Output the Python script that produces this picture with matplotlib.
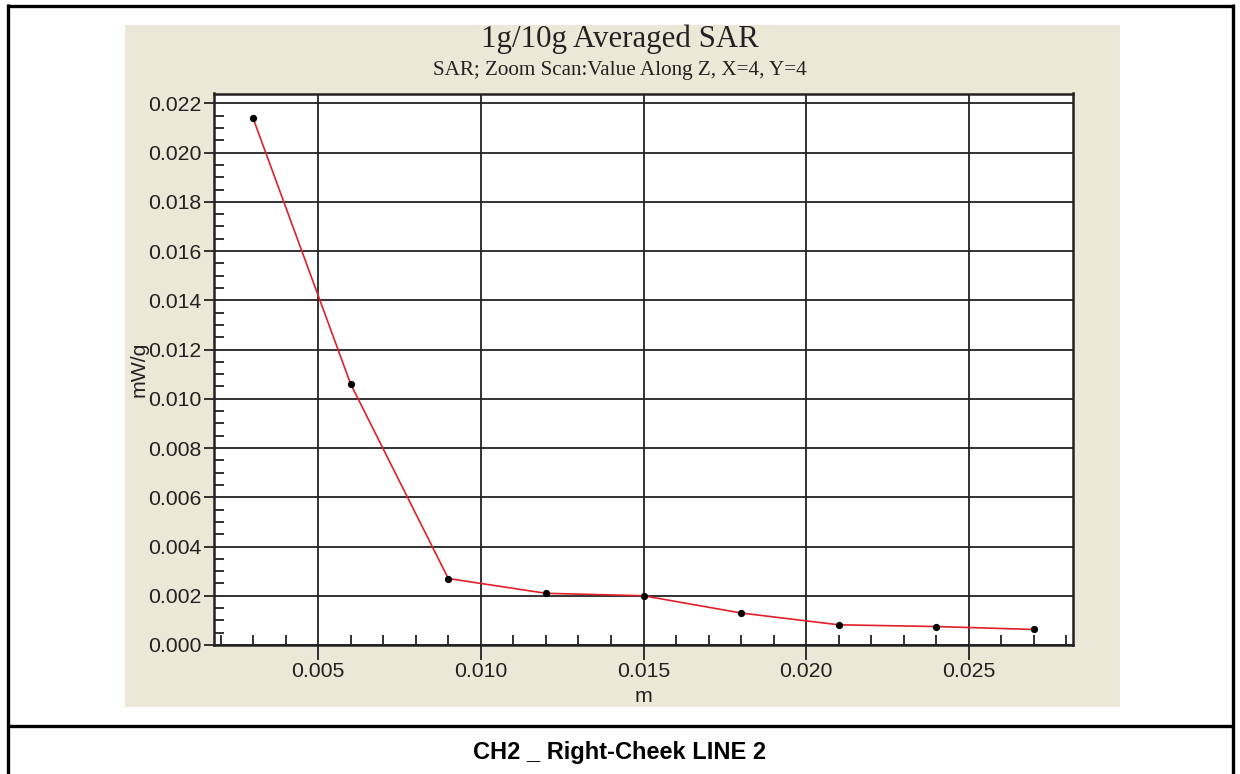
import matplotlib.pyplot as plt
from matplotlib.lines import Line2D
from matplotlib.patches import Rectangle
from matplotlib.ticker import MultipleLocator, FormatStrFormatter

# values
depth_m = [0.003, 0.006, 0.009, 0.012, 0.015, 0.018, 0.021, 0.024, 0.027]
sar_mw_g = [0.0214, 0.0106, 0.0027, 0.0021, 0.0020, 0.0013, 0.00082, 0.00075, 0.00063]

title = "1g/10g Averaged SAR"
subtitle = "SAR; Zoom Scan:Value Along Z, X=4, Y=4"
caption = "CH2 _ Right-Cheek LINE 2"

W, H = 1240, 774
PANEL = "#ECE8D7"


def fx(px):
    return px / W


def fy(py):
    return 1 - py / H


fig = plt.figure(figsize=(W / 100, H / 100), dpi=100)
fig.patch.set_facecolor("white")

# beige chart panel
fig.add_artist(Rectangle((fx(125), fy(707)), fx(1120) - fx(125), fy(25) - fy(707),
                         transform=fig.transFigure, facecolor=PANEL, edgecolor="none", zorder=0))

# page frame lines
lw_frame = 2.4
for xs, ys in [([7, 1233], [5.5, 5.5]), ([7.5, 7.5], [4, 774]), ([1233, 1233], [4, 774]),
               ([7, 1233], [725.5, 725.5])]:
    fig.add_artist(Line2D([fx(x) for x in xs], [fy(y) for y in ys], transform=fig.transFigure,
                          color="black", linewidth=lw_frame, solid_capstyle="butt"))

ax = fig.add_axes([fx(214), fy(645), fx(1073) - fx(214), fy(93.5) - fy(645)])
ax.set_facecolor("white")

ax.plot(depth_m, sar_mw_g, color="#E0202A", linewidth=1.2, zorder=3)
ax.plot(depth_m, sar_mw_g, linestyle="none", marker="o", markersize=4.2, color="black", zorder=4)

ax.set_xlim(0.0018, 0.0282)
ax.set_ylim(0.0, 0.0224)

ax.xaxis.set_major_locator(MultipleLocator(0.005))
ax.xaxis.set_minor_locator(MultipleLocator(0.001))
ax.yaxis.set_major_locator(MultipleLocator(0.002))
ax.yaxis.set_minor_locator(MultipleLocator(0.0005))
ax.xaxis.set_major_formatter(FormatStrFormatter("%.3f"))
ax.yaxis.set_major_formatter(FormatStrFormatter("%.3f"))

ax.grid(True, which="major", color="#222222", linewidth=1.3)
ax.set_axisbelow(True)

for s in ax.spines.values():
    s.set_linewidth(1.8)
    s.set_color("#222222")

fs = 15.3
tick_font = dict(family="Liberation Sans", size=fs)
ax.tick_params(axis="x", which="major", direction="out", length=11, width=1.3, pad=1.5,
               labelsize=fs, colors="#222222")
ax.tick_params(axis="y", which="major", direction="out", length=7, width=1.3, pad=2,
               labelsize=fs, colors="#222222")
ax.tick_params(which="minor", direction="in", length=7.5, width=1.3, colors="#222222")
for lbl in ax.get_xticklabels() + ax.get_yticklabels():
    lbl.set_fontfamily("Liberation Sans")

ax.set_xlabel("m", fontdict=tick_font, labelpad=4, color="#222222")
ax.set_ylabel("mW/g", fontdict=tick_font, labelpad=0, color="#222222")

fig.text(0.5, fy(39), title, ha="center", va="center", family="Liberation Serif", size=22.2,
         color="#222222")
fig.text(0.5, fy(71), subtitle, ha="center", va="center", family="Liberation Serif", size=15.2,
         color="#222222")
fig.text(0.5, fy(752), caption, ha="center", va="center", family="Liberation Sans", size=17,
         weight="bold", color="black")

fig.savefig("out.png", dpi=100)
